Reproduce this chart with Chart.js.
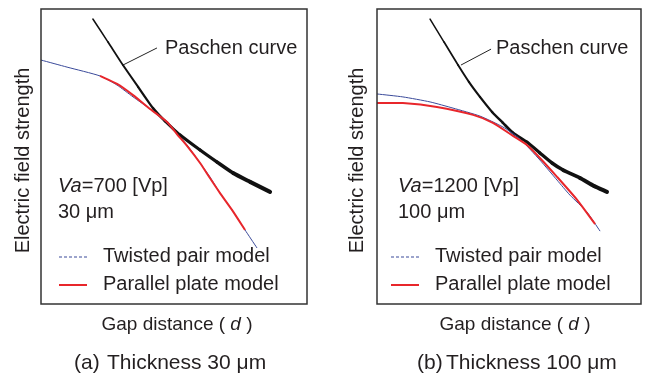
<!DOCTYPE html>
<html>
<head>
<meta charset="utf-8">
<script src="https://cdn.jsdelivr.net/npm/chart.js@4.4.1/dist/chart.umd.min.js"></script>
<style>
  html, body { margin: 0; padding: 0; background: #fff; }
  #wrap { display: flex; width: 648px; height: 374px; }
  canvas { display: block; }
</style>
</head>
<body>
<div id="wrap">
  <canvas id="chartA" width="324" height="374"></canvas>
  <canvas id="chartB" width="324" height="374"></canvas>
</div>
<script>
// values (arbitrary units, axes 0..100)
const paschenGapA = [19.5, 25.2, 30.8, 36.5, 42.1, 46.6, 52.3, 59.8, 66.2, 72.2, 78.6, 86.1];
const paschenFieldA = [96.6, 88.8, 81.0, 73.6, 66.4, 62.0, 57.3, 52.2, 48.1, 44.4, 41.4, 38.0];
const twistedGapA = [0, 9.8, 22.2, 28.6, 34.6, 41.0, 47.4, 51.1, 54.9, 59.8, 63.5, 67.3, 71.8, 76.7, 81.2];
const twistedFieldA = [82.7, 80.3, 77.3, 74.2, 70.2, 66.1, 61.4, 57.6, 53.9, 47.8, 43.1, 37.6, 31.9, 25.1, 19.0];
const plateGapA = [22.2, 28.6, 34.6, 41.0, 47.4, 51.1, 54.9, 59.8, 63.5, 67.3, 71.8, 76.7];
const plateFieldA = [77.3, 74.6, 70.8, 66.1, 61.7, 57.6, 53.6, 47.8, 42.7, 37.6, 31.9, 25.1];

const paschenGapB = [20.1, 25.4, 30.7, 34.8, 39.0, 43.6, 47.7, 51.5, 56.8, 61.7, 66.3, 70.5, 76.9, 82.2, 87.1];
const paschenFieldB = [96.6, 88.8, 81.0, 75.3, 70.2, 65.1, 61.4, 58.0, 54.9, 51.2, 47.8, 45.4, 42.7, 40.0, 38.0];
const twistedGapB = [0, 9.8, 20.1, 28.8, 39.0, 47.7, 54.2, 61.7, 68.2, 73.1, 79.5, 84.5];
const twistedFieldB = [71.2, 70.2, 68.5, 66.4, 63.7, 60.0, 55.9, 48.8, 42.0, 36.9, 31.2, 24.7];
const plateGapB = [0, 9.8, 22.7, 36.4, 43.9, 51.5, 56.8, 61.7, 68.2, 75.8, 82.6];
const plateFieldB = [68.1, 68.1, 66.8, 64.1, 61.4, 57.0, 53.9, 49.5, 43.1, 35.3, 27.1];

const seriesLabels = ["Parallel plate model", "Twisted pair model", "Paschen curve"];

const FONT = '"Liberation Sans", Arial, sans-serif';
const TEXT = "#231f20";

function pts(xs, ys) {
  return xs.map((x, i) => ({ x, y: ys[i] }));
}

// draw a row of text pieces (some italic) starting at x, or centred on x
function runs(ctx, parts, x, y, align, size) {
  size = size || 20;
  let total = 0;
  parts.forEach(p => {
    ctx.font = (p.italic ? "italic " : "") + size + "px " + FONT;
    p.w = ctx.measureText(p.t).width;
    total += p.w;
  });
  let cx = align === "center" ? x - total / 2 : x;
  ctx.textAlign = "left";
  parts.forEach(p => {
    ctx.font = (p.italic ? "italic " : "") + size + "px " + FONT;
    ctx.fillText(p.t, cx, y);
    cx += p.w;
  });
}

const decor = {
  id: "decor",
  afterDraw(chart, args, o) {
    const ctx = chart.ctx;
    const a = chart.chartArea;
    const xs = chart.scales.x, ys = chart.scales.y;
    ctx.save();
    ctx.strokeStyle = "#333";
    ctx.lineWidth = 1.5;
    ctx.strokeRect(a.left, a.top, a.right - a.left, a.bottom - a.top);

    ctx.fillStyle = TEXT;
    ctx.textBaseline = "middle";

    // y title
    ctx.save();
    ctx.translate(o.yTitleX, (a.top + a.bottom) / 2 + 4);
    ctx.rotate(-Math.PI / 2);
    ctx.font = "20px " + FONT;
    ctx.textAlign = "center";
    ctx.fillText("Electric field strength", 0, 0);
    ctx.restore();

    // x title and caption
    runs(ctx, [{ t: "Gap distance ( " }, { t: "d", italic: true }, { t: " )" }], o.xTitleX, 325, "center", 19);
    runs(ctx, [{ t: o.tag }], o.tagX, 363, "left", 21);
    runs(ctx, [{ t: o.caption }], o.captionX, 363, "left", 21);

    // Paschen label with pointer
    ctx.strokeStyle = "#222";
    ctx.lineWidth = 1;
    ctx.beginPath();
    ctx.moveTo(xs.getPixelForValue(o.pointer[0]), ys.getPixelForValue(o.pointer[1]));
    ctx.lineTo(xs.getPixelForValue(o.pointer[2]), ys.getPixelForValue(o.pointer[3]));
    ctx.stroke();
    runs(ctx, [{ t: seriesLabels[2] }], o.paschenX, 48, "left");

    // conditions
    runs(ctx, [{ t: "Va", italic: true }, { t: o.va }], a.left + o.inset, 186, "left");
    runs(ctx, [{ t: o.thick }], a.left + o.inset, 212, "left");

    // legend
    const lx = a.left + o.legendX;
    ctx.strokeStyle = "#3a4a9a";
    ctx.lineWidth = 1.2;
    ctx.setLineDash([3, 2]);
    ctx.beginPath();
    ctx.moveTo(lx, 257);
    ctx.lineTo(lx + 28, 257);
    ctx.stroke();
    ctx.setLineDash([]);
    ctx.strokeStyle = "#e8262b";
    ctx.lineWidth = 2;
    ctx.beginPath();
    ctx.moveTo(lx, 285);
    ctx.lineTo(lx + 28, 285);
    ctx.stroke();
    runs(ctx, [{ t: seriesLabels[1] }], lx + 44, 256, "left");
    runs(ctx, [{ t: seriesLabels[0] }], lx + 44, 284, "left");
    ctx.restore();
  }
};

function makePanel(id, pad, plate, twisted, paschen, o) {
  const n = paschen.length;
  new Chart(document.getElementById(id), {
    type: "line",
    data: {
      datasets: [
        { label: seriesLabels[0], data: plate, borderColor: "#e8262b", borderWidth: 2 },
        { label: seriesLabels[1], data: twisted, borderColor: "#3a4a9a", borderWidth: 1 },
        {
          label: seriesLabels[2], data: paschen, borderColor: "#111", borderWidth: 1.6,
          borderCapStyle: "round", borderJoinStyle: "round",
          segment: { borderWidth: c => 1.5 + 2.6 * c.p0DataIndex / (n - 2) }
        }
      ]
    },
    options: {
      responsive: false,
      animation: false,
      layout: { padding: pad },
      elements: { point: { radius: 0 }, line: { tension: 0.2 } },
      plugins: { legend: { display: false }, tooltip: { enabled: false }, decor: o },
      scales: {
        x: { type: "linear", min: 0, max: 100, display: false },
        y: { type: "linear", min: 0, max: 100, display: false }
      }
    },
    plugins: [decor]
  });
}

makePanel("chartA", { left: 41, right: 17, top: 9, bottom: 70 },
  pts(plateGapA, plateFieldA), pts(twistedGapA, twistedFieldA), pts(paschenGapA, paschenFieldA),
  { yTitleX: 23, xTitleX: 177, tag: "(a)", tagX: 74, caption: "Thickness 30 μm", captionX: 107,
    pointer: [30.8, 81.0, 43.6, 86.8], paschenX: 165, va: "=700 [Vp]", thick: "30 μm",
    inset: 17, legendX: 18 });

makePanel("chartB", { left: 53, right: 7, top: 9, bottom: 70 },
  pts(plateGapB, plateFieldB), pts(twistedGapB, twistedFieldB), pts(paschenGapB, paschenFieldB),
  { yTitleX: 33, xTitleX: 191, tag: "(b)", tagX: 93, caption: "Thickness 100 μm", captionX: 122,
    pointer: [31.8, 81.0, 43.2, 86.4], paschenX: 172, va: "=1200 [Vp]", thick: "100 μm",
    inset: 21, legendX: 14 });
</script>
</body>
</html>
